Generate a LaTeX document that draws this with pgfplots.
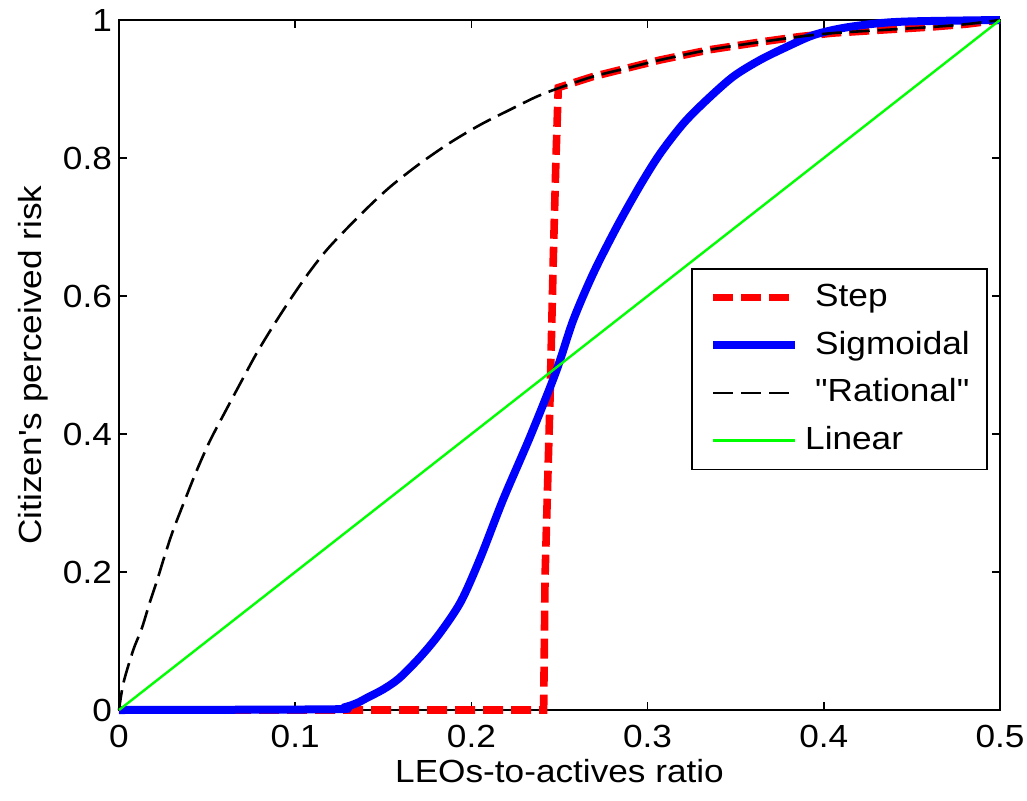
\documentclass[border=0pt]{standalone}
\usepackage{pgfplots}
\pgfplotsset{compat=1.18}
\usepackage{fontspec}
\setmainfont{Liberation Sans}[FakeStretch=1.1, Ligatures=TeXOff]

\pgfplotstableread{
x y
0 0
0.0025 0.039
0.0081 0.087
0.0129 0.118
0.0176 0.157
0.0214 0.186
0.0261 0.225
0.0308 0.261
0.0375 0.305
0.0441 0.347
0.0516 0.390
0.0602 0.432
0.0696 0.477
0.0781 0.517
0.0876 0.557
0.0980 0.598
0.1084 0.636
0.1197 0.672
0.1387 0.722
0.1538 0.758
0.1708 0.792
0.1878 0.822
0.2049 0.848
0.2219 0.870
0.2371 0.889
0.2503 0.902
0.2690 0.918
0.2880 0.930
0.3070 0.942
0.3354 0.957
0.3638 0.968
0.3865 0.976
0.4050 0.981
0.4300 0.985
0.4620 0.990
0.4810 0.994
0.5000 1.000
}\rational

\pgfplotstableread{
x y
0 0
0.2410 0
0.2418 0.193
0.2446 0.449
0.2465 0.657
0.2480 0.800
0.2493 0.902
0.2690 0.918
0.2880 0.930
0.3070 0.942
0.3354 0.957
0.3638 0.968
0.3865 0.976
0.4050 0.981
0.4300 0.985
0.4620 0.990
0.4810 0.994
0.5000 1.000
}\step

\pgfplotstableread{
x y
0 0
0.120 0.001
0.128 0.004
0.135 0.010
0.141 0.018
0.150 0.030
0.159 0.046
0.171 0.077
0.182 0.111
0.194 0.157
0.205 0.220
0.218 0.305
0.2333 0.396
0.248 0.490
0.2578 0.565
0.2692 0.633
0.2825 0.700
0.2957 0.760
0.3070 0.806
0.3203 0.850
0.3335 0.884
0.3486 0.918
0.3638 0.942
0.3789 0.961
0.3940 0.978
0.4100 0.988
0.4300 0.995
0.4500 0.998
0.5000 1.000
}\sigmoid

\pgfplotstableread{
x y
0 0
0.5 1
}\linear

\definecolor{mred}{rgb}{1,0,0}
\definecolor{mblue}{rgb}{0,0,1}
\definecolor{mgreen}{rgb}{0,1,0}

\begin{document}
\begin{tikzpicture}
\begin{axis}[
  at={(0pt,0pt)}, anchor=south west,
  scale only axis, width=440.5pt, height=345pt,
  xmin=0, xmax=0.5, ymin=0, ymax=1,
  xtick={0,0.1,0.2,0.3,0.4,0.5},
  xticklabels={0,0.1,0.2,0.3,0.4,0.5},
  ytick={0,0.2,0.4,0.6,0.8,1},
  yticklabels={0,0.2,0.4,0.6,0.8,1},
  tick align=inside, major tick length=4pt,
  axis line style={line width=0.9pt},
  every tick/.style={black, line width=0.8pt},
  clip=false,
  font=\fontsize{16}{19}\selectfont,
  tick label style={font=\fontsize{16}{19}\selectfont},
  xticklabel style={yshift=-4pt},
  xlabel={LEOs-to-actives ratio},
  ylabel={Citizen's perceived risk},
  xlabel style={at={(axis description cs:0.5,-0.089)}, anchor=center, font=\fontsize{16}{19}\selectfont},
  ylabel style={at={(axis description cs:-0.0976,0.5)}, anchor=center, font=\fontsize{16}{19}\selectfont},
  legend cell align=left,
  legend image code/.code={\draw[#1] (0pt,0pt) -- (41pt,0pt);},
  legend style={at={(axis description cs:0.986,0.641)}, anchor=north east,
    draw=black, line width=0.9pt, inner xsep=8.5pt, inner ysep=7pt,
    row sep=8.8pt, font=\fontsize{16}{19}\selectfont,
    nodes={inner xsep=0pt, inner ysep=0pt, text height=12pt, text depth=3pt},
    /tikz/every odd column/.style={column sep=8pt}},
]
\addplot[mred, line width=3.8pt, dash pattern=on 10pt off 4pt] table[x=x,y=y]{\step};
\addlegendentry{Step}
\addplot[mblue, line width=4pt, smooth, tension=0.5] table[x=x,y=y]{\sigmoid};
\addlegendentry{Sigmoidal}
\addplot[black, line width=1.3pt, dash pattern=on 10pt off 4pt, smooth, tension=0.5] table[x=x,y=y]{\rational};
\addlegendentry{"Rational"}
\addplot[mgreen, line width=1.2pt] table[x=x,y=y]{\linear};
\addlegendentry{\hspace*{-5pt}Linear}
\end{axis}
\pgfresetboundingbox
\path[use as bounding box] (-59.5pt,-45pt) rectangle (454pt,355pt);
\end{tikzpicture}
\end{document}
